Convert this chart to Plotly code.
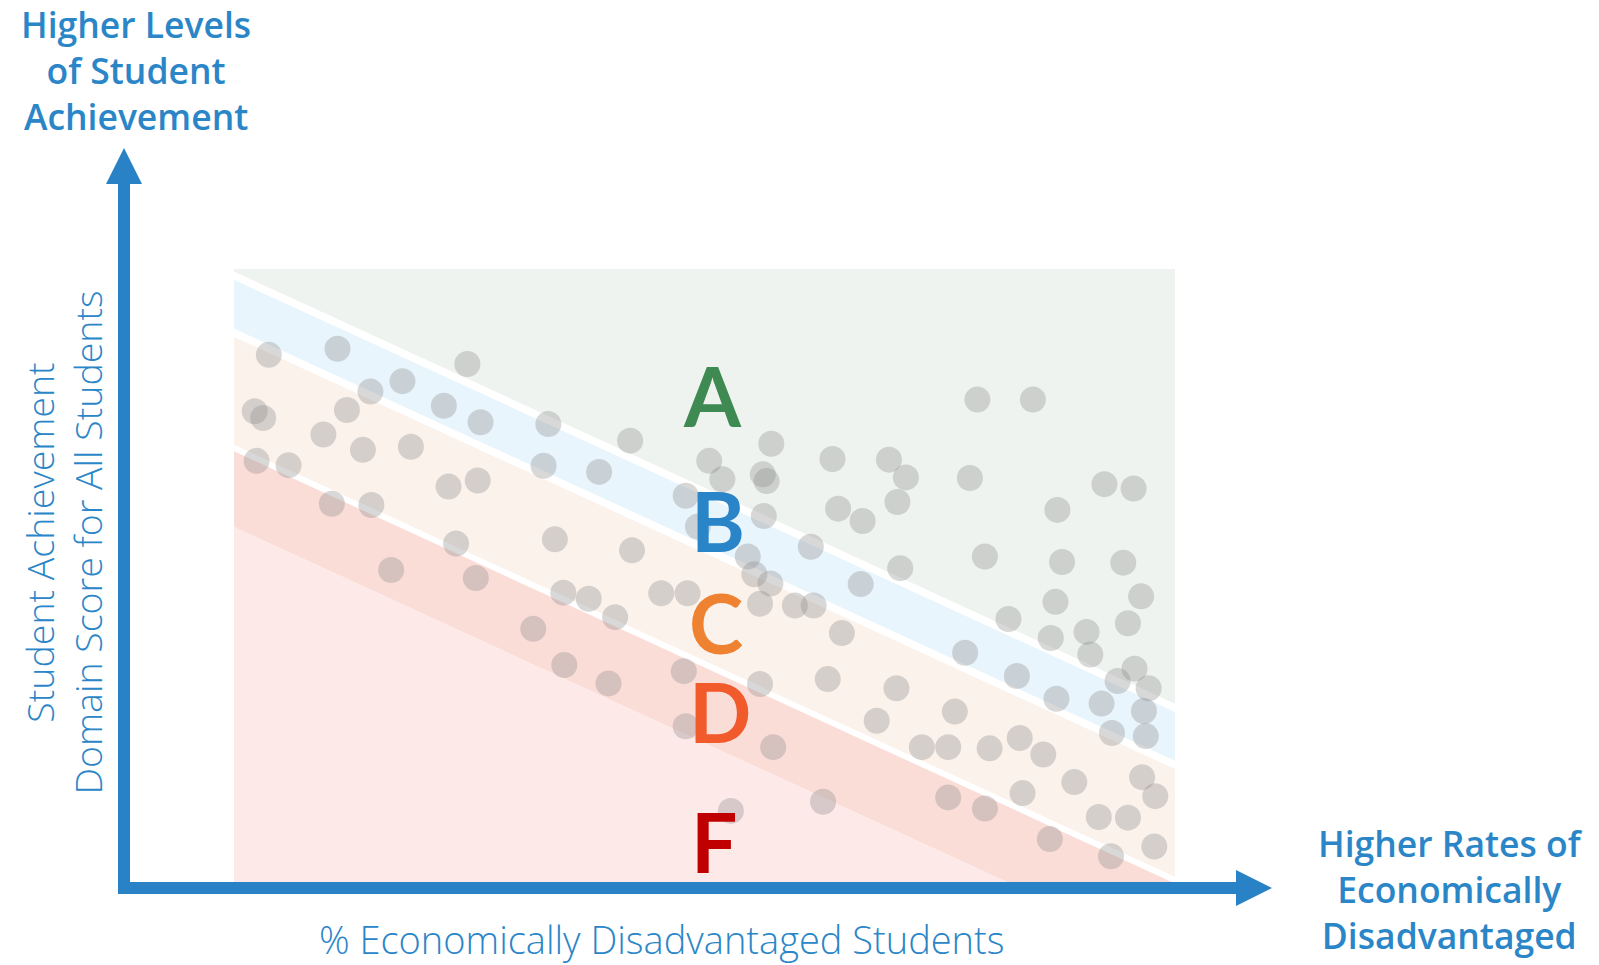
import plotly.graph_objects as go

# ---------------- data ----------------
pct_disadv = [3.7, 11.0, 24.8, 2.2, 3.1, 14.5, 17.9, 12.0, 22.3, 26.2, 9.5, 13.7, 18.8, 2.4, 5.8,
              33.4, 42.1, 32.9, 38.8, 22.8, 25.9, 10.4, 14.6, 23.6, 34.1, 42.3, 16.7, 25.7, 35.0, 37.7,
              40.5, 31.8, 35.1, 39.8, 45.4, 48.2, 47.8, 48.0, 52.8, 50.5, 51.9, 57.1, 56.2, 56.6, 48.0,
              49.3, 56.3, 54.6, 55.3, 57.0, 55.9, 59.6, 61.6, 61.3, 64.6, 55.9, 57.3, 63.1, 62.6, 63.6,
              64.2, 66.8, 66.6, 69.6, 71.4, 70.5, 70.8, 70.4, 68.3, 73.1, 75.9, 76.6, 75.9, 79.0, 84.9,
              78.2, 79.8, 77.7, 82.3, 80.3, 79.8, 83.2, 83.5, 83.8, 86.0, 86.7, 87.5, 88.0, 87.3, 86.8,
              90.6, 91.0, 87.4, 89.3, 92.5, 95.6, 94.5, 96.4, 95.0, 95.7, 93.9, 97.2, 92.2, 96.7, 93.3,
              96.9, 96.5, 97.9, 91.9, 95.0, 97.8, 93.2]
domain_score = [86.0, 87.0, 84.5, 76.8, 75.7, 80.0, 81.7, 77.0, 77.7, 75.0, 73.0, 70.5, 71.0, 68.7, 68.0,
                74.7, 72.0, 67.9, 66.9, 64.5, 65.5, 61.7, 61.5, 55.2, 55.9, 54.1, 50.9, 49.6, 47.2, 46.2,
                43.2, 41.3, 35.4, 32.4, 47.1, 47.1, 34.4, 25.4, 11.6, 68.7, 65.7, 71.5, 66.5, 65.4, 63.0,
                58.0, 59.7, 53.1, 50.2, 48.7, 45.4, 45.1, 45.1, 54.7, 40.6, 32.3, 22.0, 33.1, 13.1, 69.0,
                60.9, 58.9, 48.6, 68.9, 66.0, 62.0, 51.2, 31.6, 26.3, 22.0, 22.0, 27.8, 13.8, 78.7, 78.7,
                65.9, 53.1, 37.4, 42.9, 21.8, 12.0, 33.6, 23.5, 14.5, 20.8, 7.0, 60.7, 52.2, 45.7, 39.8,
                40.8, 37.1, 29.9, 16.3, 64.9, 64.2, 52.1, 46.6, 42.2, 34.8, 32.8, 31.6, 29.1, 27.9, 24.3,
                23.8, 17.1, 14.0, 10.6, 10.5, 5.8, 4.2]

grades = ["A", "B", "C", "D", "F"]
grade_label_x = [50.9, 51.4, 51.2, 51.6, 51.0]
grade_label_y = [79.4, 59.0, 42.4, 27.9, 6.7]
grade_text_colors = ["#3E8A52", "#2A84C8", "#EF8231", "#F15A2B", "#C00000"]
band_colors = ["#EEF3EF", "#E9F5FC", "#FBF2EC", "#FBDDD8", "#FDE9E8"]
# grade boundary lines: score at 0% disadvantaged, and slope per % point
boundary_intercepts = [98.9, 89.6, 70.8, 57.9]
boundary_slope = -0.705
white_line_widths = [7.5, 7.5, 6, 0]

x_title = "% Economically Disadvantaged Students"
y_title_lines = ["Student Achievement", "Domain Score for All Students"]
top_label_lines = ["Higher Levels", "of Student", "Achievement"]
right_label_lines = ["Higher Rates of", "Economically", "Disadvantaged"]

# ---------------- layout geometry (screen pixels) ----------------
W, H = 1599, 965
PL, PR, PT, PB = 234, 1175, 269, 882
AXIS_BLUE = "#2A82C6"
TEXT_BLUE = "#2B86C8"


def px(x):
    return (x - PL) / (PR - PL)


def py(y):
    return (PB - y) / (PB - PT)


def line_y(b, x):
    return boundary_intercepts[b] + boundary_slope * x


fig = go.Figure()

# bands
x0, x1 = 0, 100
for i, col in enumerate(band_colors):
    if i == 0:
        top = (150, 150)
    else:
        top = (line_y(i - 1, x0), line_y(i - 1, x1))
    if i == len(band_colors) - 1:
        bot = (-150, -150)
    else:
        bot = (line_y(i, x0), line_y(i, x1))
    fig.add_trace(go.Scatter(
        x=[x0, x1, x1, x0, x0], y=[top[0], top[1], bot[1], bot[0], top[0]],
        mode="lines", fill="toself", fillcolor=col, line=dict(width=0),
        hoverinfo="skip", showlegend=False))

# white separator lines
for b, w in enumerate(white_line_widths):
    if w <= 0:
        continue
    fig.add_trace(go.Scatter(
        x=[-5, 105], y=[line_y(b, -5), line_y(b, 105)], mode="lines",
        line=dict(color="white", width=w), hoverinfo="skip", showlegend=False))

# schools
fig.add_trace(go.Scatter(
    x=pct_disadv, y=domain_score, mode="markers",
    marker=dict(size=26, color="rgba(140,140,140,0.34)", line=dict(width=0)),
    showlegend=False, cliponaxis=False))

annotations = []
for g, gx, gy, gc in zip(grades, grade_label_x, grade_label_y, grade_text_colors):
    annotations.append(dict(x=gx, y=gy, xref="x", yref="y", text=g, showarrow=False,
                            font=dict(family="Lato", size=82, color=gc, weight="bold"),
                            xanchor="center", yanchor="middle"))

# top-left label
annotations.append(dict(x=px(136), y=py(70), xref="paper", yref="paper",
                        text="<br>".join(top_label_lines), align="center",
                        showarrow=False, xanchor="center", yanchor="middle",
                        font=dict(family="Open Sans", size=35.5, color=TEXT_BLUE, weight=600)))
# bottom-right label
annotations.append(dict(x=px(1450), y=py(889), xref="paper", yref="paper",
                        text="<br>".join(right_label_lines), align="center",
                        showarrow=False, xanchor="center", yanchor="middle",
                        font=dict(family="Open Sans", size=35.5, color=TEXT_BLUE, weight=600)))
# y title
annotations.append(dict(x=px(63.5), y=py(543), xref="paper", yref="paper",
                        text="<br>".join(y_title_lines), align="center",
                        showarrow=False, xanchor="center", yanchor="middle", textangle=-90,
                        font=dict(family="Open Sans", size=37.5, color=TEXT_BLUE, weight=300)))
# x title
annotations.append(dict(x=px(661), y=py(939), xref="paper", yref="paper", text=x_title,
                        showarrow=False, xanchor="center", yanchor="middle",
                        font=dict(family="Open Sans", size=38, color=TEXT_BLUE, weight=300)))

shapes = [
    # vertical shaft
    dict(type="rect", xref="paper", yref="paper", x0=px(118), x1=px(130), y0=py(894), y1=py(183),
         fillcolor=AXIS_BLUE, line=dict(width=0), layer="above"),
    # horizontal shaft
    dict(type="rect", xref="paper", yref="paper", x0=px(118), x1=px(1237), y0=py(894), y1=py(882),
         fillcolor=AXIS_BLUE, line=dict(width=0), layer="above"),
    # up arrowhead
    dict(type="path", xref="paper", yref="paper",
         path=f"M {px(106)} {py(184)} L {px(124)} {py(148)} L {px(142)} {py(184)} Z",
         fillcolor=AXIS_BLUE, line=dict(width=0), layer="above"),
    # right arrowhead
    dict(type="path", xref="paper", yref="paper",
         path=f"M {px(1236)} {py(870)} L {px(1272)} {py(888)} L {px(1236)} {py(906)} Z",
         fillcolor=AXIS_BLUE, line=dict(width=0), layer="above"),
]

fig.update_layout(
    width=W, height=H,
    margin=dict(l=PL, r=W - PR, t=PT, b=H - PB, pad=0),
    paper_bgcolor="white", plot_bgcolor="white",
    xaxis=dict(range=[0, 100], visible=False, fixedrange=True),
    yaxis=dict(range=[0, 100], visible=False, fixedrange=True),
    annotations=annotations, shapes=shapes, showlegend=False,
)

# remove the default page margin so the figure fills the window exactly
fig.write_html("out.html", config={"displayModeBar": False},
               post_script="document.body.style.margin='0px';")
